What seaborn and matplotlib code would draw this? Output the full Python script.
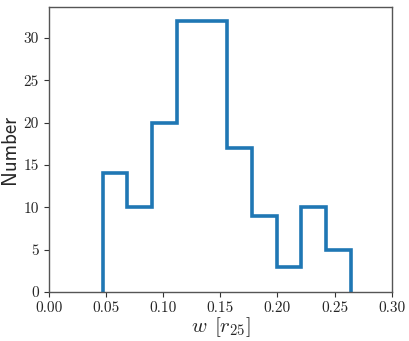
import numpy as np
import pandas as pd
import matplotlib
matplotlib.use("Agg")
import matplotlib.pyplot as plt
import seaborn as sns

# Data
bin_edges = [0.0472, 0.0689, 0.0906, 0.1124, 0.1341, 0.1558, 0.1775, 0.1992, 0.2210, 0.2427, 0.2644]
counts = [14, 10, 20, 32, 32, 17, 9, 3, 10, 5]
x_ticks = [0.00, 0.05, 0.10, 0.15, 0.20, 0.25, 0.30]
y_ticks = [0, 5, 10, 15, 20, 25, 30]

# step outline (histtype='step' style), built from edges and counts
xs = [bin_edges[0]]
ys = [0]
for i, c in enumerate(counts):
    xs += [bin_edges[i], bin_edges[i + 1]]
    ys += [c, c]
xs.append(bin_edges[-1])
ys.append(0)
outline = pd.DataFrame({"w": xs, "n": ys})

sns.set_style("ticks")
plt.rcParams["font.family"] = ["cmr10", "DejaVu Serif"]
plt.rcParams["mathtext.fontset"] = "cm"
plt.rcParams["axes.formatter.use_mathtext"] = True
plt.rcParams["axes.unicode_minus"] = False

fig = plt.figure(figsize=(4.09, 3.41), dpi=100)
ax = fig.add_axes([0.119, 0.1437, 0.839, 0.835])

sns.lineplot(data=outline, x="w", y="n", sort=False, estimator=None,
             color="#1f77b4", linewidth=2.6, ax=ax)
ax.lines[-1].set_solid_joinstyle("miter")

ax.set_xlim(0, 0.30)
ax.set_ylim(0, 33.6)
ax.set_xticks(x_ticks)
ax.set_xticklabels([f"{t:.2f}" for t in x_ticks])
ax.set_yticks(y_ticks)
ax.set_yticklabels([str(t) for t in y_ticks])
ax.tick_params(labelsize=11, length=3.5, width=0.8, color="#333333")
for s in ax.spines.values():
    s.set_color("#555555")
    s.set_linewidth(1.0)
ax.set_xlabel(r"$w\;\,[r_{25}]$", fontsize=15, labelpad=0)
ax.set_ylabel("Number", fontsize=15, family=["cmss10", "DejaVu Sans"], labelpad=3)

fig.savefig("out.png", dpi=100)
